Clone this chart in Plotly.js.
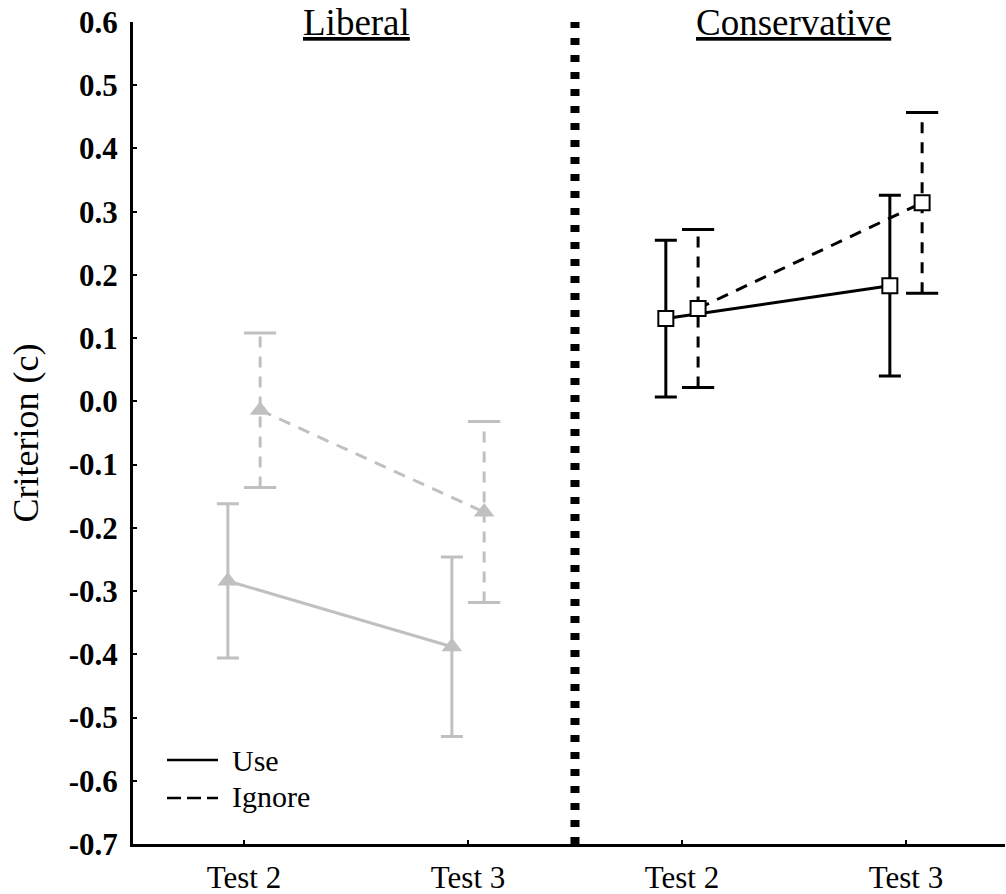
<!DOCTYPE html>
<html>
<head>
<meta charset="utf-8">
<script src="https://cdn.plot.ly/plotly-3.0.1.min.js"></script>
<style>
  html, body { margin: 0; padding: 0; background: #ffffff; }
  #chart { width: 1006px; height: 894px; }
</style>
</head>
<body>
<div id="chart"></div>
<script>
// Criterion (c) by instruction condition, for liberal and conservative groups
const groups = ['Liberal', 'Conservative'];
const tests = ['Test 2', 'Test 3'];
const series = ['Use', 'Ignore'];

const liberalUse = [-0.284, -0.388];
const liberalUseErr = [0.122, 0.142];
const liberalIgnore = [-0.014, -0.175];
const liberalIgnoreErr = [0.122, 0.143];

const conservativeUse = [0.131, 0.183];
const conservativeUseErr = [0.124, 0.143];
const conservativeIgnore = [0.147, 0.314];
const conservativeIgnoreErr = [0.125, 0.143];

const yTickVals = [-0.7, -0.6, -0.5, -0.4, -0.3, -0.2, -0.1, 0.0, 0.1, 0.2, 0.3, 0.4, 0.5, 0.6];
const yTickText = ['-0.7', '-0.6', '-0.5', '-0.4', '-0.3', '-0.2', '-0.1', '0.0', '0.1', '0.2', '0.3', '0.4', '0.5', '0.6'];

// ---- layout constants ----
const GROUP_START = [0, 1.955];   // x position of the first test in each group
const PAIR_OFFSET = 0.072;        // horizontal nudge between Use and Ignore
const GRAY = '#c0c0c0';
const BLACK = '#000000';
const SERIF = 'Liberation Serif';
const DASH = '12px,9px';
const BAR_DASH = '11px,9px';

function xs(g, shift) {
  return tests.map((_, t) => GROUP_START[g] + t + shift);
}

// dashed error bars: a vertical dashed segment with solid caps at both ends
function dashedBars(g, shift, vals, errs, color) {
  const x = [], y = [];
  xs(g, shift).forEach((xv, i) => {
    x.push(xv, xv, null);
    y.push(vals[i] - errs[i], vals[i] + errs[i], null);
  });
  return {
    type: 'scatter', mode: 'lines', x: x, y: y, showlegend: false, hoverinfo: 'skip',
    line: { color: color, width: 3, dash: BAR_DASH }
  };
}
function barCaps(g, shift, vals, errs, color) {
  const x = [], y = [];
  xs(g, shift).forEach((xv, i) => {
    x.push(xv, xv);
    y.push(vals[i] - errs[i], vals[i] + errs[i]);
  });
  return {
    type: 'scatter', mode: 'markers', x: x, y: y, showlegend: false, hoverinfo: 'skip',
    marker: { symbol: 'line-ew', size: 23, color: color, line: { color: color, width: 3 } }
  };
}

function useTrace(g, vals, errs, color, symbol, fill, size) {
  return {
    type: 'scatter', mode: 'lines+markers', name: series[0], showlegend: false,
    x: xs(g, -PAIR_OFFSET), y: vals,
    line: { color: color, width: 3 },
    marker: { symbol: symbol, size: size, color: fill, line: { color: color, width: symbol === 'square' ? 2 : 0 } },
    error_y: { type: 'data', array: errs, visible: true, color: color, thickness: 3, width: 11 }
  };
}
function ignoreTrace(g, vals, color, symbol, fill, size) {
  return {
    type: 'scatter', mode: 'lines+markers', name: series[1], showlegend: false,
    x: xs(g, PAIR_OFFSET), y: vals,
    line: { color: color, width: 3, dash: DASH },
    marker: { symbol: symbol, size: size, color: fill, line: { color: color, width: symbol === 'square' ? 2 : 0 } }
  };
}

const data = [
  dashedBars(0, PAIR_OFFSET, liberalIgnore, liberalIgnoreErr, GRAY),
  barCaps(0, PAIR_OFFSET, liberalIgnore, liberalIgnoreErr, GRAY),
  dashedBars(1, PAIR_OFFSET, conservativeIgnore, conservativeIgnoreErr, BLACK),
  barCaps(1, PAIR_OFFSET, conservativeIgnore, conservativeIgnoreErr, BLACK),
  useTrace(0, liberalUse, liberalUseErr, GRAY, 'triangle-up', GRAY, 18),
  useTrace(1, conservativeUse, conservativeUseErr, BLACK, 'square', '#ffffff', 15),
  ignoreTrace(0, liberalIgnore, GRAY, 'triangle-up', GRAY, 18),
  ignoreTrace(1, conservativeIgnore, BLACK, 'square', '#ffffff', 15)
];

const tickVals = [];
const tickText = [];
groups.forEach((_, g) => tests.forEach((name, t) => { tickVals.push(GROUP_START[g] + t); tickText.push(name); }));

const divider = (1 + GROUP_START[1]) / 2;

const layout = {
  width: 1006, height: 894,
  margin: { l: 133, r: 1, t: 22, b: 50 },
  paper_bgcolor: '#ffffff', plot_bgcolor: '#ffffff',
  showlegend: false,
  font: { family: SERIF, color: BLACK },
  xaxis: {
    range: [-0.4955, 3.397], showgrid: false, zeroline: false,
    showline: true, linecolor: BLACK, linewidth: 3,
    ticks: 'inside', ticklen: 4, tickwidth: 2, tickcolor: BLACK,
    tickvals: tickVals, ticktext: tickText, ticklabelstandoff: 4,
    tickfont: { family: SERIF, size: 31, color: BLACK }
  },
  yaxis: {
    range: [-0.7, 0.6], showgrid: false, zeroline: false,
    showline: true, linecolor: BLACK, linewidth: 3,
    ticks: 'inside', ticklen: 4, tickwidth: 2, tickcolor: BLACK,
    tickvals: yTickVals, ticktext: yTickText, ticklabelstandoff: 6,
    tickfont: { family: SERIF, size: 31, color: BLACK, weight: 700 },
    title: { text: 'Criterion (c)', font: { family: SERIF, size: 36, color: BLACK }, standoff: 20 }
  },
  shapes: [
    { type: 'line', xref: 'x', yref: 'paper', x0: divider, x1: divider, y0: 0, y1: 1,
      line: { color: BLACK, width: 9, dash: '7px,10px' } },
    { type: 'line', xref: 'paper', yref: 'paper', x0: 0.039, x1: 0.0975, y0: 0.1022, y1: 0.1022,
      line: { color: BLACK, width: 2.5 } },
    { type: 'line', xref: 'paper', yref: 'paper', x0: 0.039, x1: 0.0975, y0: 0.056, y1: 0.056,
      line: { color: BLACK, width: 2.5, dash: '14px,6px' } }
  ],
  annotations: [
    { text: '<u>' + groups[0] + '</u>', x: GROUP_START[0] + 0.5, xref: 'x', y: 1.0, yref: 'paper',
      xanchor: 'center', yanchor: 'middle', showarrow: false, font: { family: SERIF, size: 37, color: BLACK } },
    { text: '<u>' + groups[1] + '</u>', x: GROUP_START[1] + 0.5, xref: 'x', y: 1.0, yref: 'paper',
      xanchor: 'center', yanchor: 'middle', showarrow: false, font: { family: SERIF, size: 37, color: BLACK } },
    { text: series[0], x: 0.1112, xref: 'paper', y: 0.101, yref: 'paper',
      xanchor: 'left', yanchor: 'middle', showarrow: false, font: { family: SERIF, size: 30, color: BLACK } },
    { text: series[1], x: 0.1112, xref: 'paper', y: 0.0572, yref: 'paper',
      xanchor: 'left', yanchor: 'middle', showarrow: false, font: { family: SERIF, size: 30, color: BLACK } }
  ]
};

Plotly.newPlot('chart', data, layout, { staticPlot: true, displayModeBar: false });
</script>
</body>
</html>
